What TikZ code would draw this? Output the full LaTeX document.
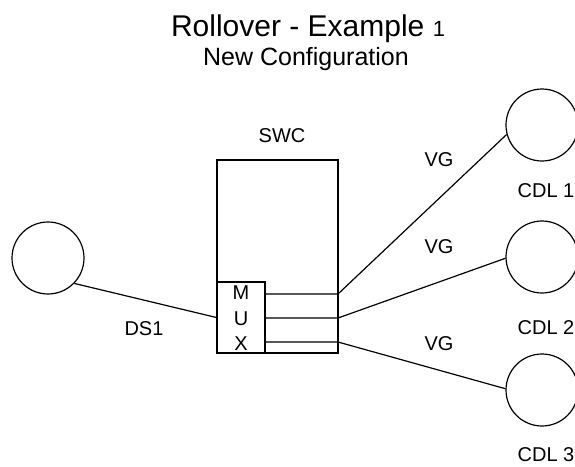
\documentclass[tikz,border=0pt]{standalone}
\usepackage{fontspec}
\setmainfont{Liberation Sans}
\begin{document}
\begin{tikzpicture}[x=1pt,y=-1pt,line width=1.2pt]
  \useasboundingbox (0,0) rectangle (575,466);

  \node[anchor=base] (title) at (308,36) {\fontsize{30}{36}\selectfont Rollover - Example {\fontsize{22}{26}\selectfont 1}};
  \node[anchor=base] (subtitle) at (306,65) {\fontsize{25}{30}\selectfont New Configuration};

  \begin{scope}[every node/.style={circle,draw,minimum size=72pt,inner sep=0pt}]
    \node (ds1)  at (48,258)  {};
    \node (cdl1) at (542,125) {};
    \node (cdl2) at (542,257) {};
    \node (cdl3) at (542,390) {};
  \end{scope}

  \begin{scope}[every node/.style={draw,rectangle,inner sep=0pt,fill=white}]
    \node[minimum width=121pt,minimum height=193pt] (swc) at (277.5,256.5) {};
    \node[minimum width=48pt,minimum height=71pt] (mux) at (241,317.5) {};
  \end{scope}

  \begin{scope}[every node/.style={font=\fontsize{20}{24}\selectfont,anchor=base}]
    \node (swclabel)  at (282,142) {SWC};
    \node (m)         at (241,299) {M};
    \node (u)         at (241,325) {U};
    \node (x)         at (241,350) {X};
    \node (vg1)       at (439,166) {VG};
    \node (vg2)       at (439,253) {VG};
    \node (vg3)       at (439,350) {VG};
    \node (ds1label)  at (144,335) {DS1};
    \node (cdl1label) at (546,197) {CDL 1};
    \node (cdl2label) at (546,334) {CDL 2};
    \node (cdl3label) at (546,461) {CDL 3};
  \end{scope}

  \coordinate (o1) at (338,294);
  \coordinate (o2) at (338,318);
  \coordinate (o3) at (338,342);

  \draw (ds1.316) -- (mux.west);
  \draw (mux.east |- o1) -- (o1) -- (cdl1.195);
  \draw (mux.east |- o2) -- (o2) -- (cdl2.182);
  \draw (mux.east |- o3) -- (o3) -- (cdl3.178);

\end{tikzpicture}
\end{document}
